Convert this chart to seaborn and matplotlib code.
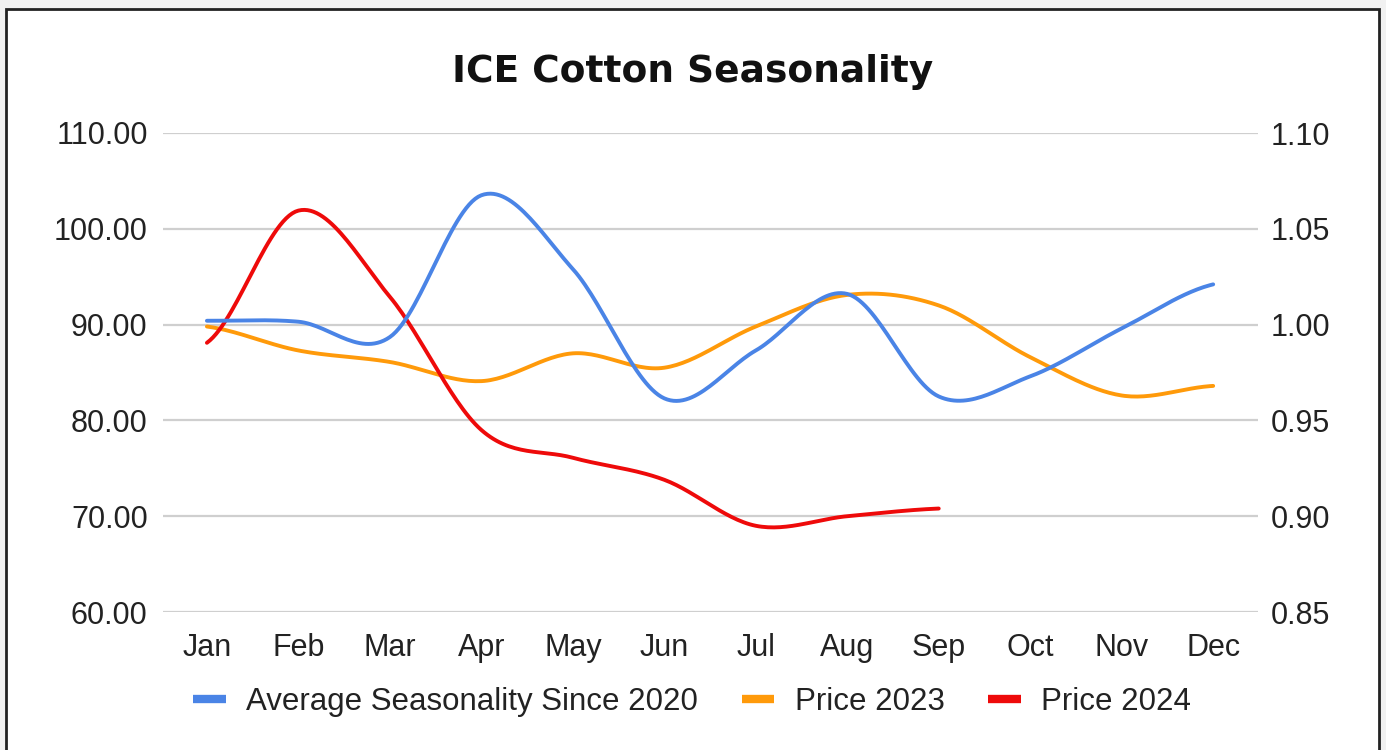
import numpy as np
import pandas as pd
import matplotlib
matplotlib.use("Agg")
import matplotlib.pyplot as plt
from matplotlib.patches import Rectangle
from matplotlib.lines import Line2D
import seaborn as sns

# Data
months = ['Jan', 'Feb', 'Mar', 'Apr', 'May', 'Jun', 'Jul', 'Aug', 'Sep', 'Oct', 'Nov', 'Dec']
seasonality = [1.002, 1.0015, 0.9935, 1.0675, 1.029, 0.9615, 0.9865, 1.016, 0.9625, 0.973, 0.998, 1.021]
price_2023 = [89.8, 87.3, 86.1, 84.1, 87.0, 85.5, 89.8, 93.1, 92.0, 86.6, 82.6, 83.6]
price_2024 = [88.1, 101.9, 92.9, 79.0, 76.1, 73.8, 69.0, 70.0, 70.8]
left_ticks = [60, 70, 80, 90, 100, 110]
right_ticks = [0.85, 0.90, 0.95, 1.00, 1.05, 1.10]

BLUE = '#4a84e6'
ORANGE = '#ff9a0a'
RED = '#ee0a0a'


def smooth(values, steps=30):
    # catmull-rom curve through the points, like the sheet's smoothed lines
    y = np.asarray(values, dtype=float)
    x = np.arange(len(y), dtype=float)
    m = np.zeros_like(y)
    m[1:-1] = (y[2:] - y[:-2]) / 2
    m[0] = (y[1] - y[0]) / 2
    m[-1] = (y[-1] - y[-2]) / 2
    xs, ys = [], []
    for i in range(len(y) - 1):
        t = np.linspace(0, 1, steps, endpoint=(i == len(y) - 2))
        h00 = 2 * t**3 - 3 * t**2 + 1
        h10 = t**3 - 2 * t**2 + t
        h01 = -2 * t**3 + 3 * t**2
        h11 = t**3 - t**2
        xs.append(x[i] + t)
        ys.append(h00 * y[i] + h10 * m[i] + h01 * y[i + 1] + h11 * m[i + 1])
    return pd.DataFrame({'x': np.concatenate(xs), 'y': np.concatenate(ys)})


sns.set_style("white")
plt.rcParams['font.family'] = ['Liberation Sans', 'DejaVu Sans']

fig = plt.figure(figsize=(13.86, 7.5), dpi=100, facecolor='#f1f1f1')
fig.patches.append(Rectangle((6 / 1386, -0.02), 1373 / 1386, 1 - 9 / 750 + 0.02,
                             transform=fig.transFigure, facecolor='white',
                             edgecolor='#222222', linewidth=2, zorder=-10))

ax = fig.add_axes([163 / 1386, 1 - 612 / 750, 1095 / 1386, 479 / 750])
ax.set_facecolor('none')
ax2 = ax.twinx()
ax2.set_facecolor('none')

sns.lineplot(data=smooth(price_2023), x='x', y='y', ax=ax, color=ORANGE, lw=2.8,
             sort=False, estimator=None, zorder=3)
sns.lineplot(data=smooth(price_2024), x='x', y='y', ax=ax, color=RED, lw=2.8,
             sort=False, estimator=None, zorder=4)
sns.lineplot(data=smooth(seasonality), x='x', y='y', ax=ax2, color=BLUE, lw=2.8,
             sort=False, estimator=None)

ax.set_xlim(-0.48, 11.49)
ax.set_ylim(60, 110)
ax2.set_ylim(0.85, 1.10)
ax.set_xticks(range(len(months)))
ax.set_xticklabels(months)
ax.set_yticks(left_ticks)
ax.set_yticklabels([f'{v:.2f}' for v in left_ticks])
ax2.set_yticks(right_ticks)
ax2.set_yticklabels([f'{v:.2f}' for v in right_ticks])

ax.grid(axis='y', color='#cfcfcf', lw=1.6)
ax.set_axisbelow(True)
for a in (ax, ax2):
    for s in a.spines.values():
        s.set_visible(False)
    a.set_xlabel('')
    a.set_ylabel('')
ax.tick_params(axis='x', length=0, pad=15, labelsize=22, labelcolor='#222222')
ax.tick_params(axis='y', length=0, pad=11, labelsize=22, labelcolor='#222222')
ax2.tick_params(axis='y', length=0, pad=9, labelsize=22, labelcolor='#222222')

fig.text(0.5, 1 - 72 / 750, 'ICE Cotton Seasonality', ha='center', va='center',
         fontsize=27, fontweight='bold', family='DejaVu Sans', color='#111111')

handles = [Line2D([], [], color=c, lw=6, solid_capstyle='butt') for c in (BLUE, ORANGE, RED)]
fig.legend(handles, ['Average Seasonality Since 2020', 'Price 2023', 'Price 2024'],
           loc='center', bbox_to_anchor=(692 / 1386, 1 - 702 / 750), ncol=3,
           frameon=False, fontsize=22.5, handlelength=1.05, handletextpad=0.65,
           columnspacing=1.4, labelcolor='#222222')

fig.savefig('out.png', dpi=100, facecolor=fig.get_facecolor())
